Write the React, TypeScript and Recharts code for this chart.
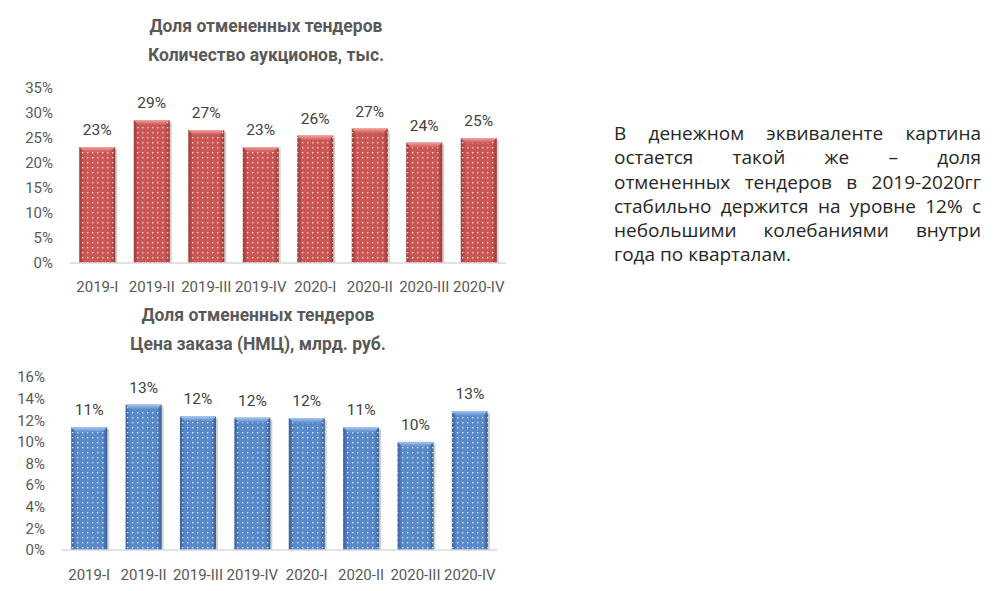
import { BarChart, Bar, XAxis, YAxis, LabelList } from "recharts"

const quarters = ["2019-I", "2019-II", "2019-III", "2019-IV", "2020-I", "2020-II", "2020-III", "2020-IV"]
// доля отмененных, % (количество аукционов)
const countShare = [23.2, 28.6, 26.6, 23.2, 25.5, 26.9, 24.1, 25.0]
// доля отмененных, % (цена заказа НМЦ)
const priceShare = [11.35, 13.45, 12.35, 12.25, 12.2, 11.35, 10.0, 12.85]
const countTicks = [0, 5, 10, 15, 20, 25, 30, 35]
const priceTicks = [0, 2, 4, 6, 8, 10, 12, 14, 16]

const countData = quarters.map((q, i) => ({ q, v: countShare[i] }))
const priceData = quarters.map((q, i) => ({ q, v: priceShare[i] }))

const FONT = "Roboto, 'Liberation Sans', sans-serif"
const GRAY = "#595959"
const TICK = { fill: GRAY, fontSize: 15, fontFamily: FONT }

type Palette = { id: string; base: string; edge: string; top: string }
const RED: Palette = { id: "red", base: "#CC5653", edge: "#9C3936", top: "#F0A4A2" }
const BLUE: Palette = { id: "blue", base: "#5889CA", edge: "#375F94", top: "#A8C6EC" }

function Defs({ p }: { p: Palette }) {
  return (
    <defs>
      <linearGradient id={`side-${p.id}`} x1="0" y1="0" x2="1" y2="0">
        <stop offset="0%" stopColor={p.edge} />
        <stop offset="13%" stopColor={p.base} />
        <stop offset="87%" stopColor={p.base} />
        <stop offset="100%" stopColor={p.edge} />
      </linearGradient>
      <linearGradient id={`top-${p.id}`} x1="0" y1="0" x2="0" y2="1">
        <stop offset="0%" stopColor={p.top} />
        <stop offset="100%" stopColor={p.base} />
      </linearGradient>
      <pattern id={`dots-${p.id}`} width="5" height="5" patternUnits="userSpaceOnUse">
        <rect x="2" y="2" width="1.3" height="1.3" fill="#ffffff" opacity="0.9" />
      </pattern>
    </defs>
  )
}

const bevelBar = (p: Palette) => (props: any) => {
  const { x, y, width, height } = props
  if (!height || height <= 0) return null
  const b = 5
  return (
    <g>
      <rect x={x + 2} y={y + 2} width={width} height={height - 2} fill="#000" opacity={0.18} />
      <rect x={x} y={y} width={width} height={height} fill={`url(#side-${p.id})`} />
      <rect x={x} y={y} width={width} height={height} fill={`url(#dots-${p.id})`} />
      <polygon
        points={`${x},${y} ${x + width},${y} ${x + width - b},${y + b} ${x + b},${y + b}`}
        fill={`url(#top-${p.id})`}
      />
    </g>
  )
}

const pct = (v: any) => `${v}%`
const pctRound = (v: any) => `${Math.round(Number(v))}%`

function Title({ lines, top, cx }: { lines: string[]; top: number; cx: number }) {
  return (
    <div
      style={{
        position: "absolute",
        left: cx - 200,
        width: 400,
        top,
        textAlign: "center",
        fontFamily: FONT,
        fontWeight: "bold",
        fontSize: 17.5,
        lineHeight: "29px",
        color: GRAY,
      }}
    >
      {lines.map((l) => (
        <div key={l}>{l}</div>
      ))}
    </div>
  )
}

const noteLines = [
  "В денежном эквиваленте картина",
  "остается такой же – доля",
  "отмененных тендеров в 2019-2020гг",
  "стабильно держится на уровне 12% с",
  "небольшими колебаниями внутри",
  "года по кварталам.",
]

export default function App() {
  return (
    <div style={{ position: "relative", width: 1003, height: 591, margin: -8, background: "#fff" }}>
      <Title lines={["Доля отмененных тендеров", "Количество аукционов, тыс."]} top={12} cx={266} />
      <div style={{ position: "absolute", left: 0, top: 0 }}>
        <BarChart
          width={520}
          height={300}
          data={countData}
          margin={{ top: 88, right: 14, bottom: 7, left: 0 }}
          barCategoryGap="17%"
        >
          <Defs p={RED} />
          <XAxis
            dataKey="q"
            height={30}
            tickLine={false}
            tickSize={0}
            tickMargin={18}
            axisLine={{ stroke: "#D9D9D9", strokeWidth: 1.5 }}
            tick={TICK}
            interval={0}
          />
          <YAxis
            width={70}
            domain={[0, 35]}
            ticks={countTicks}
            interval={0}
            tickFormatter={pct}
            axisLine={false}
            tickLine={false}
            tickSize={0}
            tickMargin={17}
            tick={TICK}
          />
          <Bar dataKey="v" shape={bevelBar(RED)} isAnimationActive={false}>
            <LabelList
              dataKey="v"
              position="top"
              offset={12}
              formatter={pctRound}
              style={{ fill: "#404040", fontSize: 15.5, fontFamily: FONT }}
            />
          </Bar>
        </BarChart>
      </div>

      <Title lines={["Доля отмененных тендеров", "Цена заказа (НМЦ), млрд. руб."]} top={301} cx={258} />
      <div style={{ position: "absolute", left: 0, top: 300 }}>
        <BarChart
          width={520}
          height={291}
          data={priceData}
          margin={{ top: 77, right: 23, bottom: 11, left: 0 }}
          barCategoryGap="17%"
        >
          <Defs p={BLUE} />
          <XAxis
            dataKey="q"
            height={30}
            tickLine={false}
            tickSize={0}
            tickMargin={19}
            axisLine={{ stroke: "#D9D9D9", strokeWidth: 1.5 }}
            tick={TICK}
            interval={0}
          />
          <YAxis
            width={62}
            domain={[0, 16]}
            ticks={priceTicks}
            interval={0}
            tickFormatter={pct}
            axisLine={false}
            tickLine={false}
            tickSize={0}
            tickMargin={17}
            tick={TICK}
          />
          <Bar dataKey="v" shape={bevelBar(BLUE)} isAnimationActive={false}>
            <LabelList
              dataKey="v"
              position="top"
              offset={12}
              formatter={pctRound}
              style={{ fill: "#404040", fontSize: 15.5, fontFamily: FONT }}
            />
          </Bar>
        </BarChart>
      </div>

      <div
        style={{
          position: "absolute",
          left: 614,
          top: 121,
          width: 367,
          fontFamily: "'Open Sans', sans-serif",
          fontSize: 19,
          lineHeight: "24.3px",
          color: "#262626",
        }}
      >
        {noteLines.map((l, i) => (
          <div
            key={l}
            style={{
              textAlign: "justify",
              textAlignLast: i < noteLines.length - 1 ? "justify" : "left",
              whiteSpace: "nowrap",
            }}
          >
            {l}
          </div>
        ))}
      </div>
    </div>
  )
}
